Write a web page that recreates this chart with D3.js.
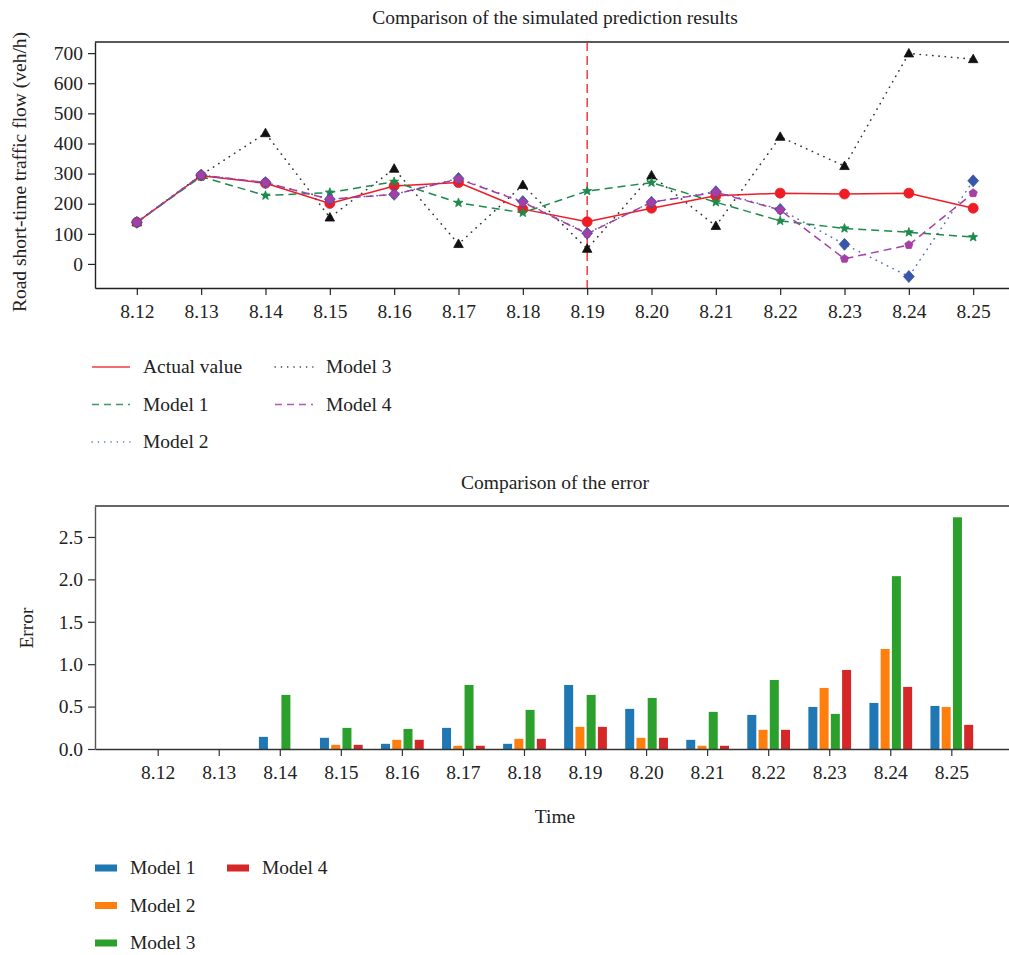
<!DOCTYPE html>
<html>
<head>
<meta charset="utf-8">
<script src="https://cdn.jsdelivr.net/npm/d3@7"></script>
<style>
  html, body { margin: 0; padding: 0; background: #fff; overflow: hidden; }
  svg { display: block; font-family: "Liberation Serif", "DejaVu Serif", serif; }
</style>
</head>
<body>
<div id="chart"></div>
<script>
// ── Data ──────────────────────────────────────────────────────────────────
const dates  = ["8.12", "8.13", "8.14", "8.15", "8.16", "8.17", "8.18", "8.19", "8.20", "8.21", "8.22", "8.23", "8.24", "8.25"];

const actual = [138, 293, 268, 201, 259, 270, 182, 140, 185, 226, 235, 232, 235, 185];
const model1 = [138, 290, 227, 237, 273, 203, 170, 242, 270, 205, 143, 118, 105, 89];
const model2 = [138, 295, 270, 215, 231, 284, 207, 102, 205, 240, 181, 65, -42, 276];
const model3 = [138, 295, 434, 154, 316, 66, 262, 50, 294, 126, 422, 325, 699, 680];
const model4 = [138, 295, 270, 215, 231, 282, 205, 100, 205, 238, 179, 17, 63, 235];

const err1 = [0, 0, 0.143, 0.132, 0.061, 0.249, 0.061, 0.755, 0.473, 0.108, 0.402, 0.496, 0.543, 0.508];
const err2 = [0, 0, 0, 0.049, 0.108, 0.038, 0.120, 0.261, 0.132, 0.038, 0.226, 0.720, 1.179, 0.496];
const err3 = [0, 0, 0.638, 0.249, 0.237, 0.755, 0.461, 0.638, 0.602, 0.438, 0.814, 0.414, 2.038, 2.732];
const err4 = [0, 0, 0, 0.049, 0.108, 0.038, 0.120, 0.261, 0.132, 0.038, 0.226, 0.932, 0.732, 0.285];

const flowTicks  = [0, 100, 200, 300, 400, 500, 600, 700];
const errorTicks = [0, 0.5, 1.0, 1.5, 2.0, 2.5];
const splitDate  = "8.19";

// ── Styles per series ─────────────────────────────────────────────────────
const DOT = "0.3,6";
const LINE_SERIES = [
    { name: "Model 3",      values: model3, color: "#111111", dash: DOT,   marker: "triangle", size: 5 },
    { name: "Actual value", values: actual, color: "#ee1c25", dash: null,  marker: "circle",   size: 5 },
    { name: "Model 1",      values: model1, color: "#1b8a4a", dash: "8,5", marker: "star",     size: 4.8 },
    { name: "Model 2",      values: model2, color: "#3a56a8", dash: DOT,   marker: "diamond",  size: 6 },
    { name: "Model 4",      values: model4, color: "#a43fa6", dash: "8,5", marker: "pentagon", size: 4.3 }
];
const LEGEND_TOP = ["Actual value", "Model 1", "Model 2", "Model 3", "Model 4"];

const BAR_SERIES = [
    { name: "Model 1", values: err1, color: "#1f77b4" },
    { name: "Model 2", values: err2, color: "#ff7f0e" },
    { name: "Model 3", values: err3, color: "#2ca02c" },
    { name: "Model 4", values: err4, color: "#d62728" }
];

// marker paths centred on 0,0
function markerPath(type, r) {
    const pts = [];
    if (type === "circle") {
        return `M${r},0A${r},${r} 0 1,1 ${-r},0A${r},${r} 0 1,1 ${r},0Z`;
    }
    if (type === "diamond") {
        return `M0,${-r}L${r * 0.9},0L0,${r}L${-r * 0.9},0Z`;
    }
    if (type === "triangle") {
        return `M0,${-r}L${r * 0.95},${r * 0.7}L${-r * 0.95},${r * 0.7}Z`;
    }
    if (type === "pentagon") {
        for (let i = 0; i < 5; i++) {
            const a = -Math.PI / 2 + i * 2 * Math.PI / 5;
            pts.push([r * Math.cos(a), r * Math.sin(a)]);
        }
    }
    if (type === "star") {
        for (let i = 0; i < 10; i++) {
            const a = -Math.PI / 2 + i * Math.PI / 5;
            const rr = i % 2 === 0 ? r : r * 0.42;
            pts.push([rr * Math.cos(a), rr * Math.sin(a)]);
        }
    }
    return "M" + pts.map(p => p[0].toFixed(2) + "," + p[1].toFixed(2)).join("L") + "Z";
}

const W = 1009, H = 955;
const svg = d3.select("#chart").append("svg").attr("width", W).attr("height", H);

const FONT = 19.5;
const TEXT = "#222";

// ── Top chart: predictions ────────────────────────────────────────────────
const topBox = { left: 95, right: 1015, top: 42, bottom: 288 };

const x1 = d3.scalePoint().domain(dates).range([topBox.left, topBox.right]).padding(0.65);
const y1 = d3.scaleLinear().domain([-80, 737]).range([topBox.bottom, topBox.top]);

svg.append("text")
    .attr("x", 555).attr("y", 24)
    .attr("text-anchor", "middle")
    .style("font-size", FONT + "px").style("fill", TEXT)
    .text("Comparison of the simulated prediction results");

const xAxis1 = svg.append("g")
    .attr("transform", `translate(0,${topBox.bottom})`)
    .call(d3.axisBottom(x1).tickSize(7).tickSizeOuter(0));
const yAxis1 = svg.append("g")
    .attr("transform", `translate(${topBox.left},0)`)
    .call(d3.axisLeft(y1).tickValues(flowTicks).tickSize(7).tickSizeOuter(0));

[xAxis1, yAxis1].forEach(a => {
    a.select(".domain").attr("stroke", "#222").attr("stroke-width", 1.4);
    a.selectAll(".tick line").attr("stroke", "#222").attr("stroke-width", 1.2);
    a.selectAll(".tick text")
        .style("font-family", "Liberation Serif, serif")
        .style("font-size", FONT + "px").style("fill", TEXT);
});
xAxis1.selectAll(".tick text").attr("dy", "1.0em");
yAxis1.selectAll(".tick text").attr("x", -12);

// top border line
svg.append("line")
    .attr("x1", topBox.left).attr("x2", topBox.right)
    .attr("y1", topBox.top).attr("y2", topBox.top)
    .attr("stroke", "#222").attr("stroke-width", 1.4);

svg.append("text")
    .attr("transform", "rotate(-90)")
    .attr("x", -172).attr("y", 26)
    .attr("text-anchor", "middle")
    .style("font-size", FONT + "px").style("fill", TEXT)
    .text("Road short-time traffic flow (veh/h)");

// split marker
svg.append("line")
    .attr("x1", x1(splitDate)).attr("x2", x1(splitDate))
    .attr("y1", topBox.top).attr("y2", topBox.bottom)
    .attr("stroke", "#ee1c25").attr("stroke-width", 1.3)
    .attr("stroke-dasharray", "9,5");

const line = d3.line().x((d, i) => x1(dates[i])).y(d => y1(d));

LINE_SERIES.forEach(s => {
    const dotted = s.dash === DOT;
    svg.append("path")
        .datum(s.values)
        .attr("d", line)
        .attr("fill", "none")
        .attr("stroke", s.color)
        .attr("stroke-width", dotted ? 1.6 : 1.5)
        .attr("stroke-linecap", dotted ? "round" : "butt")
        .attr("stroke-dasharray", s.dash)
        .attr("opacity", dotted ? 0.85 : 1);
});
LINE_SERIES.forEach(s => {
    svg.append("g").selectAll("path")
        .data(s.values)
        .join("path")
        .attr("transform", (d, i) => `translate(${x1(dates[i])},${y1(d)})`)
        .attr("d", markerPath(s.marker, s.size))
        .attr("fill", s.color)
        .attr("stroke", s.color)
        .attr("stroke-width", 0.8);
});

// legend (two columns)
const legTop = svg.append("g");
LEGEND_TOP.forEach((name, i) => {
    const s = LINE_SERIES.find(d => d.name === name);
    const dotted = s.dash === DOT;
    const col = i < 3 ? 0 : 1;
    const row = i < 3 ? i : i - 3;
    const gx = 92 + col * 183, gy = 367 + row * 37.5;
    legTop.append("line")
        .attr("x1", gx).attr("x2", gx + 38)
        .attr("y1", gy).attr("y2", gy)
        .attr("stroke", s.color).attr("stroke-width", 1.3)
        .attr("stroke-linecap", dotted ? "round" : "butt")
        .attr("stroke-dasharray", dotted ? "0.3,6" : (s.dash ? "7,5" : null))
        .attr("opacity", 0.85);
    legTop.append("text")
        .attr("x", gx + 51).attr("y", gy + 6)
        .style("font-size", FONT + "px").style("fill", TEXT)
        .text(name);
});

// ── Bottom chart: errors ──────────────────────────────────────────────────
const botBox = { left: 95, right: 1015, top: 506, bottom: 749 };

const x2 = d3.scaleBand().domain(dates).range([botBox.left, botBox.right])
    .paddingInner(0.3).paddingOuter(0.685);
const xInner = d3.scaleBand().domain(BAR_SERIES.map(d => d.name))
    .range([0, x2.bandwidth()]).paddingInner(0.2);
const y2 = d3.scaleLinear().domain([0, 2.865]).range([botBox.bottom, botBox.top]);

svg.append("text")
    .attr("x", 555).attr("y", 489)
    .attr("text-anchor", "middle")
    .style("font-size", FONT + "px").style("fill", TEXT)
    .text("Comparison of the error");

const barsG = svg.append("g");
BAR_SERIES.forEach(s => {
    barsG.append("g").selectAll("rect")
        .data(s.values)
        .join("rect")
        .attr("x", (d, i) => x2(dates[i]) + xInner(s.name))
        .attr("width", xInner.bandwidth())
        .attr("y", d => y2(d))
        .attr("height", d => y2(0) - y2(d))
        .attr("fill", s.color);
});

const xAxis2 = svg.append("g")
    .attr("transform", `translate(0,${botBox.bottom})`)
    .call(d3.axisBottom(x2).tickSize(7).tickSizeOuter(0));
const yAxis2 = svg.append("g")
    .attr("transform", `translate(${botBox.left},0)`)
    .call(d3.axisLeft(y2).tickValues(errorTicks).tickFormat(d3.format(".1f")).tickSize(7).tickSizeOuter(0));

[xAxis2, yAxis2].forEach(a => {
    a.select(".domain").attr("stroke", "#333").attr("stroke-width", 1.4);
    a.selectAll(".tick line").attr("stroke", "#333").attr("stroke-width", 1.2);
    a.selectAll(".tick text")
        .style("font-family", "Liberation Serif, serif")
        .style("font-size", FONT + "px").style("fill", TEXT);
});
yAxis2.select(".domain").attr("stroke", "#555");
xAxis2.selectAll(".tick text").attr("dy", "1.0em");
yAxis2.selectAll(".tick text").attr("x", -12);

svg.append("line")
    .attr("x1", botBox.left).attr("x2", botBox.right)
    .attr("y1", botBox.top).attr("y2", botBox.top)
    .attr("stroke", "#666").attr("stroke-width", 2);

svg.append("text")
    .attr("transform", "rotate(-90)")
    .attr("x", -628).attr("y", 33)
    .attr("text-anchor", "middle")
    .style("font-size", FONT + "px").style("fill", TEXT)
    .text("Error");

svg.append("text")
    .attr("x", 555).attr("y", 823)
    .attr("text-anchor", "middle")
    .style("font-size", FONT + "px").style("fill", TEXT)
    .text("Time");

// legend (two columns)
const legBot = svg.append("g");
BAR_SERIES.forEach((s, i) => {
    const col = i < 3 ? 0 : 1;
    const row = i < 3 ? i : i - 3;
    const gx = 95 + col * 132, gy = 868 + row * 37.5;
    legBot.append("rect")
        .attr("x", gx).attr("y", gy - 3.5)
        .attr("width", 22).attr("height", 7)
        .attr("fill", s.color);
    legBot.append("text")
        .attr("x", gx + 35).attr("y", gy + 6)
        .style("font-size", FONT + "px").style("fill", TEXT)
        .text(s.name);
});
</script>
</body>
</html>
